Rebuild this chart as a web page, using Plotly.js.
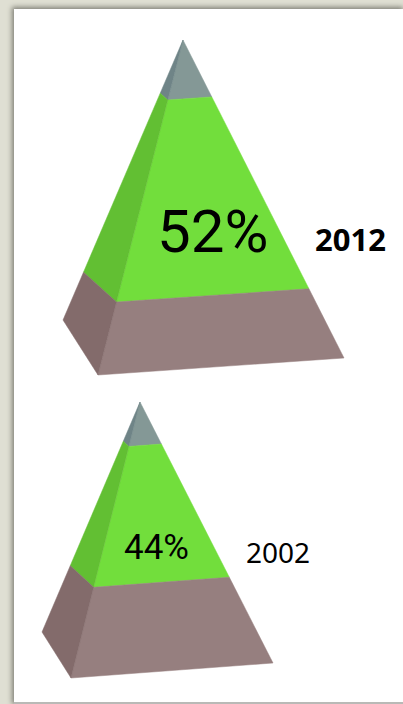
<!DOCTYPE html>
<html>
<head>
<meta charset="utf-8">
<script src="https://cdn.plot.ly/plotly-3.0.1.min.js"></script>
<style>
  html, body { margin: 0; padding: 0; width: 403px; height: 704px; overflow: hidden; background: #dfdfd3; }
  #panel { position: absolute; left: 14px; top: 9px; width: 389px; height: 693px; background: #fff;
           box-shadow: -1px -1px 5px 1px #808077; border-bottom: 2px solid #b9b9b6; box-sizing: content-box; }
  #chart { position: absolute; left: 0; top: 0; width: 403px; height: 704px; }
</style>
</head>
<body>
<div id="panel"></div>
<div id="chart"></div>
<script>
// Share of the population in the middle band of each survey year
const years = ['2012', '2002'];
const values = [52, 44];
const topShares = [17.9, 16.1];

// Outline of each pyramid on a page-sized plotting grid
const apexes = [[183, 40], [140, 402]];
const backCorners = [[63, 320], [42, 632]];
const frontCorners = [[98, 375], [71, 678]];
const rightCorners = [[344, 358], [273, 663]];

// Value labels and year labels
const valueSpots = [[212, 231, 60], [156, 547, 35]];
const yearSpots = [[350, 239, 31, 700], [278, 552, 28, 400]];

// Colours as [front face, side face], top band to bottom band
const bandColours = [
  ['#849896', '#6f8487'],
  ['#72de3c', '#62bf33'],
  ['#967f7f', '#836b6b']
];
const bandScale = 1.16;   // foreshortening between stated share and drawn height
const sideStretch = 1.06; // the rear edge reads slightly longer than the front ones

const along = (a, b, t) => [a[0] + (b[0] - a[0]) * t, a[1] + (b[1] - a[1]) * t];

const traces = [];
years.forEach((year, i) => {
  const apex = apexes[i];
  const t1 = topShares[i] / 100;
  const t2 = t1 + values[i] / 100 * bandScale;
  const stops = [0, t1, t2, 1];
  for (let b = 0; b < 3; b++) {
    const s0 = stops[b], s1 = stops[b + 1];
    const sideAt = t => along(apex, backCorners[i], t === 1 ? 1 : t * sideStretch);
    const faces = [
      [along(apex, frontCorners[i], s0), along(apex, rightCorners[i], s0),
       along(apex, rightCorners[i], s1), along(apex, frontCorners[i], s1)],
      [sideAt(s0), along(apex, frontCorners[i], s0),
       along(apex, frontCorners[i], s1), sideAt(s1)]
    ];
    faces.forEach((pts, f) => {
      const closed = pts.concat([pts[0]]);
      traces.push({
        type: 'scatter', mode: 'lines', fill: 'toself',
        x: closed.map(p => p[0]), y: closed.map(p => p[1]),
        fillcolor: bandColours[b][f],
        line: { width: 0.5, color: bandColours[b][f] },
        hoverinfo: 'skip', showlegend: false
      });
    });
  }
});

const annotations = [];
years.forEach((year, i) => {
  annotations.push({
    x: valueSpots[i][0], y: valueSpots[i][1], xref: 'x', yref: 'y', showarrow: false,
    text: values[i] + '%',
    font: { family: 'Roboto', size: valueSpots[i][2], color: '#000' }
  });
  annotations.push({
    x: yearSpots[i][0], y: yearSpots[i][1], xref: 'x', yref: 'y', showarrow: false,
    text: yearSpots[i][3] > 500 ? '<b>' + year + '</b>' : year,
    font: { family: '"Noto Sans"', size: yearSpots[i][2], color: '#000' }
  });
});

const hiddenAxis = { visible: false, fixedrange: true, showgrid: false, zeroline: false };
Plotly.newPlot('chart', traces, {
  width: 403, height: 704,
  margin: { l: 0, r: 0, t: 0, b: 0 },
  paper_bgcolor: 'rgba(0,0,0,0)', plot_bgcolor: 'rgba(0,0,0,0)',
  xaxis: Object.assign({ range: [0, 403] }, hiddenAxis),
  yaxis: Object.assign({ range: [704, 0] }, hiddenAxis),
  annotations: annotations,
  showlegend: false
}, { displayModeBar: false, staticPlot: true });
</script>
</body>
</html>
